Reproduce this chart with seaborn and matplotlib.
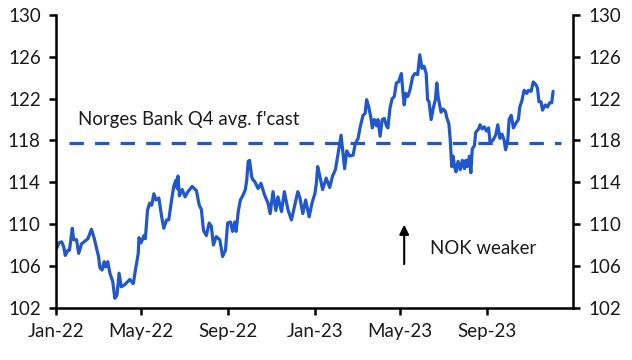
import pandas as pd
import seaborn as sns
import matplotlib.pyplot as plt

# EUR/NOK-style index
dates = [
    "2022-01-02", "2022-01-05", "2022-01-09", "2022-01-12", "2022-01-14", "2022-01-18", "2022-01-20",
    "2022-01-24", "2022-01-26", "2022-01-30", "2022-02-02", "2022-02-06", "2022-02-15", "2022-02-20",
    "2022-02-24", "2022-03-02", "2022-03-04", "2022-03-07", "2022-03-10", "2022-03-12", "2022-03-15",
    "2022-03-18", "2022-03-22", "2022-03-25", "2022-03-28", "2022-03-31", "2022-04-03", "2022-04-08",
    "2022-04-15", "2022-04-20", "2022-04-23", "2022-04-27", "2022-04-28", "2022-05-01", "2022-05-05",
    "2022-05-07", "2022-05-10", "2022-05-13", "2022-05-16", "2022-05-19", "2022-05-22", "2022-05-26",
    "2022-05-30", "2022-06-02", "2022-06-06", "2022-06-09", "2022-06-13", "2022-06-16", "2022-06-19",
    "2022-06-21", "2022-06-22", "2022-06-24", "2022-06-28", "2022-07-02", "2022-07-06", "2022-07-12",
    "2022-07-18", "2022-07-22", "2022-07-25", "2022-07-28", "2022-08-01", "2022-08-05", "2022-08-08",
    "2022-08-11", "2022-08-15", "2022-08-20", "2022-08-24", "2022-08-28", "2022-08-31", "2022-09-04",
    "2022-09-07", "2022-09-10", "2022-09-12", "2022-09-15", "2022-09-18", "2022-09-22", "2022-09-25",
    "2022-09-27", "2022-09-29", "2022-10-01", "2022-10-04", "2022-10-06", "2022-10-08", "2022-10-13",
    "2022-10-17", "2022-10-22", "2022-10-27", "2022-10-30", "2022-11-03", "2022-11-07", "2022-11-10",
    "2022-11-15", "2022-11-19", "2022-11-24", "2022-11-29", "2022-12-03", "2022-12-08", "2022-12-11",
    "2022-12-15", "2022-12-19", "2022-12-24", "2022-12-28", "2023-01-01", "2023-01-03", "2023-01-05",
    "2023-01-08", "2023-01-12", "2023-01-17", "2023-01-22", "2023-01-26", "2023-01-30", "2023-02-02",
    "2023-02-05", "2023-02-07", "2023-02-09", "2023-02-12", "2023-02-15", "2023-02-19", "2023-02-24",
    "2023-02-27", "2023-03-03", "2023-03-06", "2023-03-10", "2023-03-13", "2023-03-15", "2023-03-18",
    "2023-03-21", "2023-03-23", "2023-03-26", "2023-03-29", "2023-03-31", "2023-04-03", "2023-04-06",
    "2023-04-09", "2023-04-12", "2023-04-14", "2023-04-17", "2023-04-20", "2023-04-23", "2023-04-26",
    "2023-04-29", "2023-05-03", "2023-05-05", "2023-05-07", "2023-05-09", "2023-05-12", "2023-05-15",
    "2023-05-19", "2023-05-22", "2023-05-26", "2023-05-29", "2023-06-01", "2023-06-04", "2023-06-07",
    "2023-06-09", "2023-06-11", "2023-06-14", "2023-06-17", "2023-06-20", "2023-06-22", "2023-06-24",
    "2023-06-28", "2023-07-01", "2023-07-04", "2023-07-06", "2023-07-09", "2023-07-11", "2023-07-13",
    "2023-07-15", "2023-07-17", "2023-07-19", "2023-07-22", "2023-07-25", "2023-07-28", "2023-07-31",
    "2023-08-02", "2023-08-04", "2023-08-07", "2023-08-09", "2023-08-11", "2023-08-14", "2023-08-16",
    "2023-08-20", "2023-08-22", "2023-08-25", "2023-08-28", "2023-08-31", "2023-09-03", "2023-09-05",
    "2023-09-09", "2023-09-13", "2023-09-16", "2023-09-19", "2023-09-22", "2023-09-25", "2023-09-27",
    "2023-09-30", "2023-10-02", "2023-10-05", "2023-10-08", "2023-10-12", "2023-10-15", "2023-10-17",
    "2023-10-20", "2023-10-23", "2023-10-27", "2023-10-29", "2023-11-02", "2023-11-05", "2023-11-09",
    "2023-11-11", "2023-11-13", "2023-11-16", "2023-11-18", "2023-11-22", "2023-11-25", "2023-11-28",
    "2023-12-01", "2023-12-03",
]
values = [
    107.7, 108.2, 108.3, 107.8, 107.0, 107.5, 107.5,
    109.6, 108.5, 108.5, 107.2, 108.1, 108.6, 109.5,
    108.6, 106.9, 105.8, 105.6, 106.4, 105.9, 106.4,
    105.3, 104.5, 102.9, 103.2, 105.3, 104.0, 104.2,
    104.7, 104.3, 105.6, 107.2, 108.7, 108.2, 108.9,
    108.6, 111.3, 112.0, 111.8, 112.9, 112.3, 112.5,
    110.7, 109.6, 110.4, 110.4, 112.3, 113.6, 114.2,
    113.4, 114.6, 112.7, 113.3, 112.6, 113.1, 113.6,
    113.2, 111.8, 111.4, 109.4, 108.9, 110.1, 109.8,
    108.0, 108.8, 108.5, 106.9, 107.5, 110.1, 110.2,
    109.3, 110.2, 109.3, 111.2, 112.3, 112.8, 113.3,
    114.2, 116.0, 116.1, 114.5, 114.2, 114.1, 113.4,
    113.9, 112.8, 112.0, 111.0, 113.1, 111.3, 112.6,
    111.2, 113.1, 111.4, 110.4, 111.6, 113.1, 112.5,
    111.0, 112.3, 110.7, 112.0, 112.9, 113.8, 115.5,
    114.6, 113.3, 114.4, 113.5, 114.6, 115.2, 116.4,
    117.7, 118.5, 117.2, 115.3, 117.0, 116.5, 116.6,
    117.7, 118.2, 119.3, 120.4, 120.6, 121.9, 121.2,
    120.2, 119.2, 120.0, 119.4, 120.0, 118.4, 120.0,
    120.1, 119.4, 119.2, 121.1, 122.0, 122.2, 123.5,
    123.6, 124.4, 122.8, 121.4, 122.5, 122.2, 122.8,
    124.1, 124.4, 124.3, 126.2, 124.9, 125.1, 124.4,
    121.9, 121.7, 120.0, 121.1, 121.9, 123.5, 122.1,
    120.7, 121.0, 120.8, 120.2, 119.6, 118.0, 115.5,
    116.5, 115.5, 115.0, 116.0, 115.2, 116.1, 115.3,
    116.1, 115.5, 116.5, 114.9, 117.2, 117.5, 118.8,
    119.1, 119.5, 119.1, 119.3, 118.9, 119.2, 117.9,
    118.0, 118.5, 119.5, 118.2, 118.6, 118.0, 117.1,
    118.0, 120.0, 120.4, 119.2, 119.7, 120.0, 121.2,
    121.8, 122.8, 122.5, 122.8, 122.7, 123.6, 123.3,
    123.0, 121.7, 121.7, 120.9, 121.4, 121.2, 121.6,
    121.6, 122.7,
]

forecast = 117.8
forecast_span = ["2022-01-20", "2023-12-14"]
tick_dates = ["2022-01-01", "2022-05-01", "2022-09-01", "2023-01-01", "2023-05-01", "2023-09-01"]
tick_labels = ["Jan-22", "May-22", "Sep-22", "Jan-23", "May-23", "Sep-23"]
y_ticks = [102, 106, 110, 114, 118, 122, 126, 130]

blue = "#2157cc"

df = pd.DataFrame({"date": pd.to_datetime(dates), "value": values})

sns.set_style("ticks")
plt.rcParams["font.family"] = ["Lato", "DejaVu Sans"]

fig = plt.figure(figsize=(6.32, 3.6), dpi=100)
ax = fig.add_axes([0.0886, 0.1453, 0.818, 0.813])

sns.lineplot(data=df, x="date", y="value", ax=ax, color=blue, linewidth=2.3)

# forecast line
span = pd.to_datetime(forecast_span)
ax.hlines(forecast, span[0], span[1], colors=blue, linestyles=(0, (4.5, 3.5)), linewidth=2.3)
ax.text(pd.Timestamp("2022-02-01"), 120.0, "Norges Bank Q4 avg. f'cast",
        fontsize=13.4, va="center", ha="left", color="#1a1a1a")

# arrow + label
arrow_x = pd.Timestamp("2023-05-07")
ax.annotate("", xy=(arrow_x, 110.2), xytext=(arrow_x, 105.9),
            arrowprops=dict(arrowstyle="-|>", color="black", lw=1.5, mutation_scale=14))
ax.text(pd.Timestamp("2023-06-12"), 107.7, "NOK weaker", fontsize=13.4, va="center", ha="left",
        color="#1a1a1a")

ax.set_xlim(pd.Timestamp("2022-01-01"), pd.Timestamp("2023-12-31"))
ax.set_ylim(102, 130)
ax.set_xticks(pd.to_datetime(tick_dates))
ax.set_xticklabels(tick_labels)
ax.set_yticks(y_ticks)
ax.set_xlabel("")
ax.set_ylabel("")

for side in ["left", "bottom", "right"]:
    ax.spines[side].set_visible(True)
    ax.spines[side].set_linewidth(1.8)
    ax.spines[side].set_color("black")
ax.spines["top"].set_visible(False)

ax.yaxis.set_ticks_position("both")
ax.tick_params(axis="y", labelright=True, labelleft=True, direction="out", length=5, width=1.8,
               labelsize=13.5, pad=6, colors="black", labelcolor="#1a1a1a")
ax.tick_params(axis="x", direction="out", length=5, width=1.8, labelsize=13.5, pad=6,
               colors="black", labelcolor="#1a1a1a")

plt.savefig("out.png", dpi=100)
